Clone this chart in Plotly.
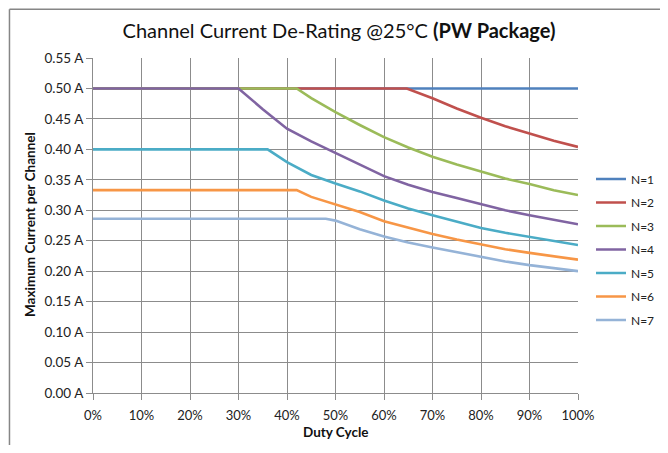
import plotly.graph_objects as go

# Duty cycle (%) and maximum current per channel (A) for each N
n1_x = [0, 100]
n1_y = [0.500, 0.500]
n2_x = [0, 64.7, 70, 75, 80, 85, 90, 95, 100]
n2_y = [0.500, 0.500, 0.484, 0.467, 0.452, 0.438, 0.426, 0.414, 0.404]
n3_x = [0, 42, 45, 50, 55, 60, 65, 70, 75, 80, 85, 90, 95, 100]
n3_y = [0.500, 0.500, 0.484, 0.461, 0.440, 0.420, 0.403, 0.388, 0.375, 0.363, 0.352, 0.343, 0.333, 0.325]
n4_x = [0, 30, 35, 40, 45, 50, 55, 60, 65, 70, 75, 80, 85, 90, 95, 100]
n4_y = [0.500, 0.500, 0.466, 0.434, 0.413, 0.394, 0.374, 0.356, 0.342, 0.330, 0.320, 0.310, 0.300, 0.292, 0.284, 0.277]
n5_x = [0, 36, 40, 45, 50, 55, 60, 65, 70, 75, 80, 85, 90, 95, 100]
n5_y = [0.400, 0.400, 0.379, 0.358, 0.344, 0.331, 0.316, 0.303, 0.292, 0.281, 0.271, 0.263, 0.256, 0.249, 0.243]
n6_x = [0, 42, 45, 50, 55, 60, 65, 70, 75, 80, 85, 90, 95, 100]
n6_y = [0.333, 0.333, 0.322, 0.310, 0.297, 0.282, 0.271, 0.261, 0.252, 0.244, 0.236, 0.230, 0.224, 0.219]
n7_x = [0, 48, 50, 55, 60, 65, 70, 75, 80, 85, 90, 95, 100]
n7_y = [0.286, 0.286, 0.283, 0.269, 0.257, 0.247, 0.239, 0.231, 0.223, 0.216, 0.210, 0.205, 0.200]

series_names = ["N=1", "N=2", "N=3", "N=4", "N=5", "N=6", "N=7"]
series_x = [n1_x, n2_x, n3_x, n4_x, n5_x, n6_x, n7_x]
series_y = [n1_y, n2_y, n3_y, n4_y, n5_y, n6_y, n7_y]
colors = ["#4F81BD", "#C0504D", "#9BBB59", "#8064A2", "#4BACC6", "#F79646", "#95B3D7"]

x_ticks = [0, 10, 20, 30, 40, 50, 60, 70, 80, 90, 100]
x_tick_labels = ["0%", "10%", "20%", "30%", "40%", "50%", "60%", "70%", "80%", "90%", "100%"]
y_ticks = [0.00, 0.05, 0.10, 0.15, 0.20, 0.25, 0.30, 0.35, 0.40, 0.45, 0.50, 0.55]
y_tick_labels = ["%.2f A" % v for v in y_ticks]

FONT = "Lato, 'Open Sans', sans-serif"
GRID = "#8c8c8c"

fig = go.Figure()
for name, xs, ys, c in zip(series_names, series_x, series_y, colors):
    fig.add_trace(go.Scatter(
        x=xs, y=ys, name=name, mode="lines",
        line=dict(color=c, width=2.6),
        legendgroup=name,
    ))

# The page body adds an 8px margin on every side; lay out in page pixels and
# keep the figure small enough that the page does not overflow the window.
OFF = 8
W, H = 668 - 2 * OFF, 453 - 2 * OFF
L, R, T, B = 92.5 - OFF, 578.5 - OFF, 57.5 - OFF, 392.7 - OFF

def px_x(p):
    return (p - OFF - L) / (R - L)

def px_y(p):
    return (B - (p - OFF)) / (B - T)

fig.update_layout(
    width=W, height=H,
    margin=dict(l=L, r=W - R, t=T, b=H - B, autoexpand=False),
    paper_bgcolor="white", plot_bgcolor="white",
    font=dict(family=FONT, size=13, color="#222"),
    title=dict(
        text="Channel Current De-Rating @25°C <b>(PW Package)</b>",
        x=px_x(339), xanchor="center", xref="paper",
        y=1 - (31 - OFF) / H, yanchor="middle",
        font=dict(family=FONT, size=20, color="#111"),
    ),
    xaxis=dict(
        range=[0, 100], tickmode="array", tickvals=x_ticks, ticktext=x_tick_labels,
        showgrid=True, gridcolor=GRID, gridwidth=1,
        showline=True, linecolor=GRID, linewidth=1,
        ticks="outside", ticklen=6, tickcolor=GRID,
        zeroline=False, automargin=False, ticklabelstandoff=4,
        tickfont=dict(family=FONT, size=13, color="#222"),
    ),
    yaxis=dict(
        range=[0, 0.55], tickmode="array", tickvals=y_ticks, ticktext=y_tick_labels,
        showgrid=True, gridcolor=GRID, gridwidth=1,
        showline=True, linecolor=GRID, linewidth=1,
        ticks="outside", ticklen=6, tickcolor=GRID,
        zeroline=False, automargin=False,
        tickfont=dict(family=FONT, size=13.5, color="#222"),
    ),
    annotations=[
        dict(text="<b>Duty Cycle</b>", xref="paper", yref="paper",
             x=px_x(336), y=px_y(432), xanchor="center", yanchor="middle", showarrow=False,
             font=dict(family=FONT, size=13.5, color="#111")),
        dict(text="<b>Maximum Current per Channel</b>", xref="paper", yref="paper",
             x=px_x(30), y=px_y(224), xanchor="center", yanchor="middle", showarrow=False,
             textangle=-90, font=dict(family=FONT, size=13.5, color="#111")),
    ],
    legend=dict(
        x=1.0, xanchor="right", y=px_y(164), yanchor="top",
        font=dict(family=FONT, size=12, color="#222"),
        bgcolor="rgba(0,0,0,0)", tracegroupgap=4.5, traceorder="grouped",
        itemwidth=30, xref="container",
    ),
    shapes=[
        dict(type="line", xref="paper", yref="paper", x0=px_x(8.8), x1=px_x(668), y0=px_y(8.8), y1=px_y(8.8),
             line=dict(color="#868686", width=1.5)),
        dict(type="line", xref="paper", yref="paper", x0=px_x(8.8), x1=px_x(8.8), y0=px_y(8.8), y1=px_y(460),
             line=dict(color="#868686", width=1.5)),
    ],
)

fig.write_html("out.html")
